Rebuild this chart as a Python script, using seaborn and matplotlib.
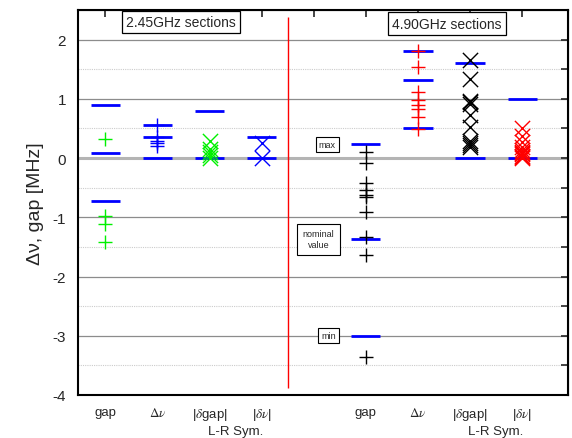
import matplotlib
matplotlib.use("Agg")
import matplotlib.pyplot as plt
import seaborn as sns
import pandas as pd
import numpy as np

# ---------------- data ----------------
positions = [1, 2, 3, 4, 6, 7, 8, 9]
tick_labels = ["gap", r"$\Delta\nu$", r"|$\delta$gap|", r"|$\delta\nu$|",
               "gap", r"$\Delta\nu$", r"|$\delta$gap|", r"|$\delta\nu$|"]

# blue reference levels (max / nominal / min) per category
levels_245_gap = [0.89, 0.085, -0.72]
levels_245_dnu = [0.56, 0.36, 0.0]
levels_245_dgap = [0.80, 0.0]
levels_245_dnuabs = [0.35, 0.0]
levels_490_gap = [0.23, -1.37, -3.0]
levels_490_dnu = [1.81, 1.31, 0.51]
levels_490_dgap = [1.61, 0.0]
levels_490_dnuabs = [1.0, 0.0]

# measured points
pts_245_gap = [0.33, -0.97, -1.12, -1.41]
pts_245_dnu = [0.56, 0.36, 0.28, 0.25, 0.21]
pts_245_dgap = [0.29, 0.16, 0.10, 0.05, 0.0]
pts_245_dnuabs = [0.26, 0.0]
pts_490_gap = [0.11, -0.09, -0.42, -0.54, -0.63, -0.65, -0.91, -1.34, -1.64, -3.36]
pts_490_dnu = [1.81, 1.54, 1.12, 0.98, 0.90, 0.82, 0.70, 0.49]
pts_490_dgap = [1.66, 1.33, 0.97, 0.94, 0.92, 0.72, 0.52, 0.28, 0.25, 0.22, 0.19]
pts_490_dnuabs = [0.51, 0.38, 0.27, 0.18, 0.14, 0.11, 0.08, 0.06, 0.04, 0.02, 0.0]

level_sets = [levels_245_gap, levels_245_dnu, levels_245_dgap, levels_245_dnuabs,
              levels_490_gap, levels_490_dnu, levels_490_dgap, levels_490_dnuabs]
point_sets = [pts_245_gap, pts_245_dnu, pts_245_dgap, pts_245_dnuabs,
              pts_490_gap, pts_490_dnu, pts_490_dgap, pts_490_dnuabs]
point_colors = ["#00f000", "#0000ff", "#00f000", "#0000ff",
                "black", "red", "black", "red"]
point_markers = ["+", "+", "x", "x", "+", "+", "x", "x"]

# ---------------- style ----------------
sns.set_style("white")
plt.rcParams["font.family"] = ["Liberation Sans", "DejaVu Sans"]
plt.rcParams["mathtext.fontset"] = "stix"

fig = plt.figure(figsize=(5.72, 4.39), dpi=100)
ax = fig.add_axes([0.136, 0.098, 0.857, 0.877])

ax.set_xlim(0.47, 9.88)
ax.set_ylim(-4, 2.5)

# grid
for v in np.arange(-3.5, 2.5, 1.0):
    ax.axhline(v, color="#cccccc", lw=0.8, ls=(0, (1, 1)), zorder=0)
for v in [-3, -2, -1, 1, 2]:
    ax.axhline(v, color="#8c8c8c", lw=0.9, zorder=0)
ax.axhline(0, color="#b4b4b4", lw=2.2, zorder=0)

# vertical red separator
ax.vlines(4.5, -3.88, 2.38, color="red", lw=1.0, zorder=1)

# blue level bars
for x, levs in zip(positions, level_sets):
    ax.hlines(levs, x - 0.28, x + 0.28, color="#0000ff", lw=2.0, zorder=2)

# points
for x, pts, c, m in zip(positions, point_sets, point_colors, point_markers):
    df = pd.DataFrame({"x": [x] * len(pts), "y": pts})
    sns.scatterplot(data=df, x="x", y="y", ax=ax, marker=m, color=c,
                    s=120 if m == "x" else 110, linewidth=1.0, zorder=3,
                    legend=False)

# axes cosmetics
ax.set_xticks(positions)
ax.set_xticklabels(tick_labels, fontsize=9.5)
ax.set_xticks([5], minor=True)
ax.set_yticks([-4, -3, -2, -1, 0, 1, 2])
ax.set_yticklabels(["-4", "-3", "-2", "-1", "0", "1", "2"], fontsize=11)
ax.set_yticks(np.arange(-3.5, 2.5, 1.0), minor=True)
ax.tick_params(axis="x", which="both", direction="out", length=5, width=1.2, pad=3)
ax.tick_params(axis="y", which="major", direction="out", length=5, width=1.2)
ax.tick_params(axis="y", which="minor", direction="out", length=3, width=1.0)
ax.set_xlabel("")
ax.set_ylabel(r"Δν, gap [MHz]", fontsize=14, labelpad=6)

for sp in ax.spines.values():
    sp.set_linewidth(1.5)
    sp.set_color("black")

# mirrored ticks (inward) on top and right
top = ax.secondary_xaxis("top")
top.set_xticks(list(range(1, 10)))
top.set_xticklabels([])
top.tick_params(direction="in", length=5, width=1.2)
right = ax.secondary_yaxis("right")
right.set_yticks(np.arange(-4, 2.51, 0.5))
right.set_yticklabels([])
right.tick_params(direction="in", length=5, width=1.2)

# second line label under x ticks
for xc in [3.5, 8.5]:
    ax.text(xc, -0.078, "L-R Sym.", transform=ax.get_xaxis_transform(),
            ha="center", va="top", fontsize=9.5)

# annotation boxes
box = dict(boxstyle="square,pad=0.3", fc="white", ec="black", lw=0.9)
ax.text(2.45, 2.30, "2.45GHz sections", ha="center", va="center", fontsize=10,
        bbox=box, zorder=5)
ax.text(7.56, 2.27, "4.90GHz sections", ha="center", va="center", fontsize=10,
        bbox=box, zorder=5)
sbox = dict(boxstyle="square,pad=0.35", fc="white", ec="black", lw=0.8)
ax.text(5.26, 0.23, "max", ha="center", va="center", fontsize=6.5, bbox=sbox, zorder=5)
ax.text(5.09, -1.37, "nominal\nvalue", ha="center", va="center", fontsize=6.5,
        bbox=dict(boxstyle="square,pad=0.6", fc="white", ec="black", lw=0.8),
        zorder=5, linespacing=1.3)
ax.text(5.29, -3.0, "min", ha="center", va="center", fontsize=6.5, bbox=sbox, zorder=5)

fig.savefig("out.png", dpi=100)
